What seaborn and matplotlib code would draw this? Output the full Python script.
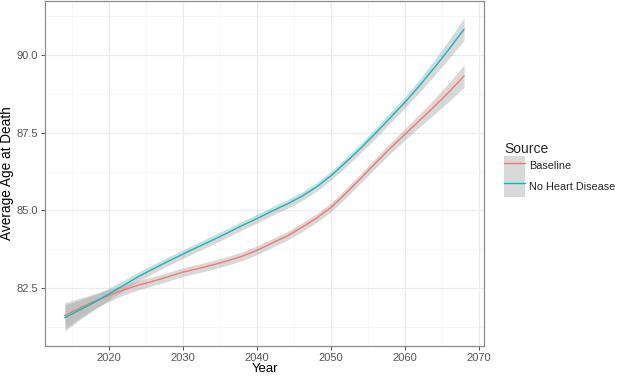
import numpy as np
import pandas as pd
import seaborn as sns
import matplotlib
matplotlib.use("Agg")
import matplotlib.pyplot as plt
from matplotlib.patches import Patch
from matplotlib.lines import Line2D
from matplotlib.legend_handler import HandlerTuple
from matplotlib.ticker import MultipleLocator

years = [2014, 2016, 2018, 2020, 2022, 2024, 2026, 2028, 2030, 2032, 2034, 2036, 2038, 2040,
         2042, 2044, 2046, 2048, 2050, 2052, 2054, 2056, 2058, 2060, 2062, 2064, 2066, 2068]
no_heart = [81.55, 81.80, 82.05, 82.32, 82.60, 82.88, 83.13, 83.37, 83.60, 83.83, 84.05, 84.28,
            84.52, 84.74, 84.98, 85.20, 85.45, 85.75, 86.12, 86.55, 87.00, 87.48, 87.98, 88.48,
            89.02, 89.60, 90.20, 90.83]
baseline = [81.62, 81.86, 82.08, 82.27, 82.45, 82.60, 82.73, 82.87, 83.02, 83.13, 83.25, 83.38,
            83.53, 83.72, 83.95, 84.17, 84.45, 84.75, 85.10, 85.55, 86.03, 86.52, 87.00, 87.45,
            87.90, 88.35, 88.82, 89.33]
half_width = [0.42, 0.32, 0.24, 0.19, 0.16, 0.15, 0.14, 0.14, 0.14, 0.14, 0.14, 0.14, 0.14, 0.14,
              0.14, 0.14, 0.14, 0.14, 0.14, 0.15, 0.15, 0.16, 0.17, 0.18, 0.21, 0.25, 0.30, 0.36]
series = ["Baseline", "No Heart Disease"]
colors = {"Baseline": "#F8766D", "No Heart Disease": "#00BFC4"}

df = pd.DataFrame({
    "Year": years * 2,
    "Average Age at Death": baseline + no_heart,
    "Source": ["Baseline"] * len(years) + ["No Heart Disease"] * len(years),
})

sns.set_theme(style="white")
plt.rcParams["font.family"] = ["Liberation Sans", "DejaVu Sans"]

fig = plt.figure(figsize=(6.17, 3.77), dpi=100)
ax = fig.add_axes([45 / 617, 31 / 377, 439 / 617, 345 / 377])

hw = np.array(half_width)
for name, vals in zip(series, [baseline, no_heart]):
    v = np.array(vals)
    ax.fill_between(years, v - hw, v + hw, color="#999999", alpha=0.38, linewidth=0, zorder=2)

sns.lineplot(data=df, x="Year", y="Average Age at Death", hue="Source", palette=colors,
             ax=ax, linewidth=1.0, legend=False, zorder=3)

ax.set_xlim(2011.3, 2070.7)
ax.set_ylim(80.64, 91.74)
ax.xaxis.set_major_locator(MultipleLocator(10))
ax.xaxis.set_minor_locator(MultipleLocator(5))
ax.yaxis.set_major_locator(MultipleLocator(2.5))
ax.yaxis.set_minor_locator(MultipleLocator(1.25))
ax.yaxis.set_major_formatter(matplotlib.ticker.FormatStrFormatter("%.1f"))
ax.grid(True, which="major", color="#EBEBEB", linewidth=0.9, zorder=0)
ax.grid(True, which="minor", color="#F3F3F3", linewidth=0.5, zorder=0)
ax.set_axisbelow(True)
for s in ax.spines.values():
    s.set_color("#8C8C8C")
    s.set_linewidth(0.9)
ax.tick_params(axis="both", which="major", direction="out", length=3, width=0.7,
               color="#555555", labelcolor="#555555", labelsize=8.0, pad=2,
               bottom=True, left=True)
ax.tick_params(axis="both", which="minor", length=0)
ax.set_xlabel("Year", fontsize=9.5, color="black", va="center")
ax.set_ylabel("Average Age at Death", fontsize=9.8, color="black", va="center")
ax.xaxis.set_label_coords(0.5, (7.5 - 31) / 345)
ax.yaxis.set_label_coords((7 - 45) / 439, 0.5)

handles = [(Patch(facecolor="#D9D9D9", edgecolor="none"),
            Line2D([0], [0], color=colors[n], linewidth=1.0)) for n in series]
leg = fig.legend(handles, series, handler_map={tuple: HandlerTuple(ndivide=1, pad=0)},
                 title="Source", loc="upper left", bbox_to_anchor=(504 / 617, 1 - 142 / 377),
                 frameon=False, fontsize=7.8, title_fontsize=10, handlelength=1.9,
                 handleheight=2.5, labelspacing=0.0, handletextpad=0.45, borderaxespad=0,
                 borderpad=0)
leg._legend_box.align = "left"

fig.savefig("out.png", dpi=100)
